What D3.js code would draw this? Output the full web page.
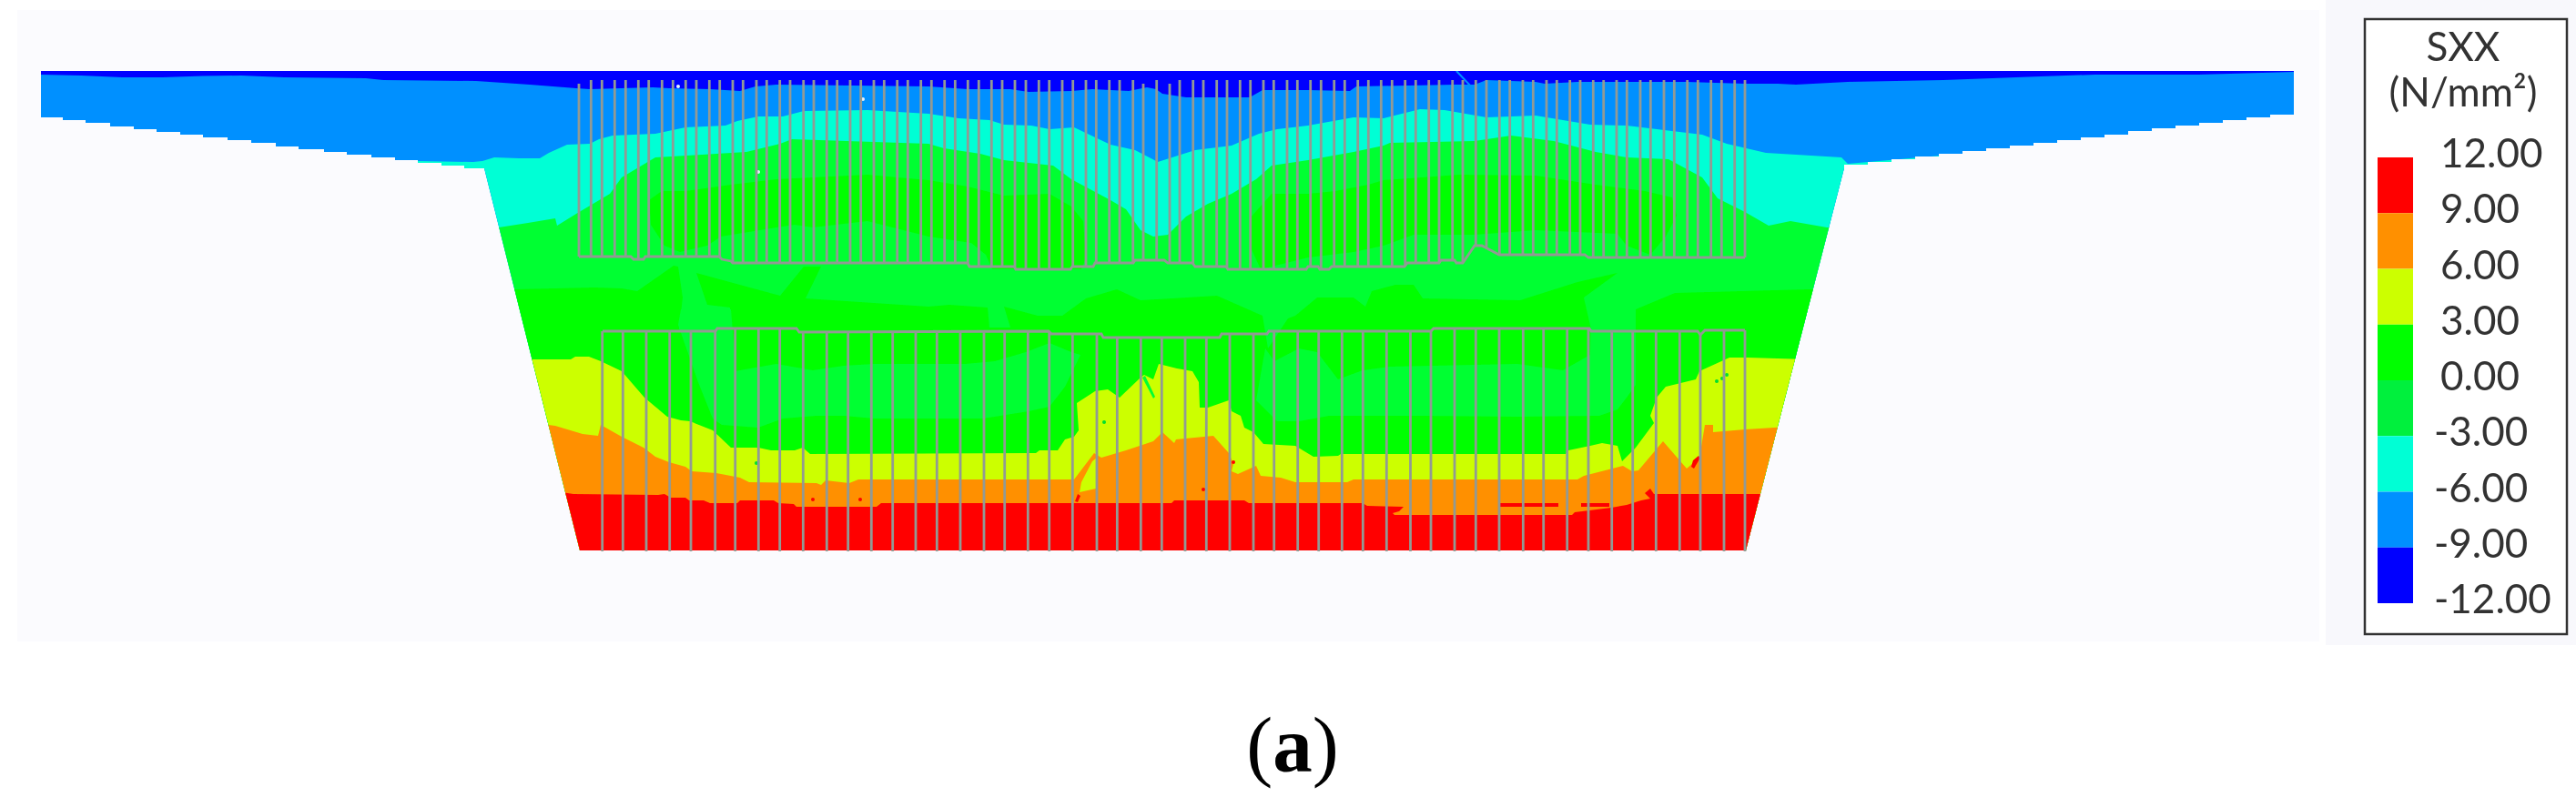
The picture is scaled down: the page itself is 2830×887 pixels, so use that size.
<!DOCTYPE html>
<html><head><meta charset="utf-8">
<script src="https://cdn.jsdelivr.net/npm/d3@7"></script>
<style>html,body{margin:0;padding:0;background:#fff}svg{display:block}</style>
</head><body><svg id="c" width="2830" height="887"></svg>
<script>
// ---- section outline (section coordinates) ----
const flangeRightSteps=[[2520,126],[2494,129],[2468,132],[2442,135],[2416,138],[2390,141],[2364,144],[2338,148],[2312,151],[2286,154],[2260,157],[2234,160],[2208,163],[2182,166],[2156,169],[2130,172],[2104,175],[2078,178],[2052,181],[2026,185]];
const flangeLeftSteps=[[529,185],[510,182],[485,179],[459,176],[434,173],[408,170],[381,167],[356,164],[328,161],[303,157],[276,154],[250,151],[223,148],[198,145],[172,142],[147,139],[121,135],[94,132],[69,129],[45,126]];
const sectionTop=[[45,78],[2520,78]];
const sectionWeb=[[1918,605],[637,605],[532,185]];
// ---- stress bands ----
const legendLevels=[12,9,6,3,0,-3,-6,-9,-12];
const legendLabels=["12.00","9.00","6.00","3.00","0.00","-3.00","-6.00","-9.00","-12.00"];
const bandColors=["#ff0000","#ff9000","#ccff00","#00ff00","#00f03c","#00ffd5","#0090ff","#0000ff"];
const cDeep="#0000ff",cBlue="#0090ff",cTeal="#00ffd5",cLight="#00ff33",cGreen="#00ff00",cYellow="#ccff00",cOrange="#ff9000",cRed="#ff0000";
// ---- contour boundaries, left to right ----
const edgeBlue=[[45,82],[89,83],[134,85],[179,85],[223,83.5],[265,83],[312,85],[402,86],[421,88],[523,89],[582,93],[633,97],[648,98],[717,96],[735,97],[780,98],[813,100],[830,95],[853,93],[1020,95],[1063,98],[1110,98],[1130,101],[1177,100],[1200,98],[1240,100],[1260,96],[1270,98],[1277,103],[1303,107],[1373,107],[1387,99],[1437,99],[1483,100],[1490,95],[1600,93],[1620,93],[1633,88],[1687,90],[1697,92],[1733,90],[1853,90],[1917,92],[1953,92],[1973,93],[2030,90],[2135,88],[2242,84],[2302,82],[2415,82],[2520,79]];
const edgeTeal=[[459,177],[520,178],[530,177],[543,173],[570,174],[593,174],[603,168],[623,159],[648,158],[658,153],[673,149],[720,147],[753,140],[797,138],[810,133],[833,128],[860,128],[883,122],[953,121],[1020,125],[1053,130],[1087,132],[1103,137],[1133,138],[1153,142],[1180,140],[1220,159],[1247,165],[1272,178],[1313,165],[1353,160],[1383,147],[1403,142],[1437,138],[1487,129],[1520,130],[1560,120],[1587,121],[1633,129],[1687,127],[1747,137],[1787,138],[1870,148],[1897,158],[1940,168],[2023,173],[2030,180],[2178,167]];
const edgeLight=[[520,252],[548,250],[580,245],[610,240],[612,248],[633,235],[670,213],[683,195],[720,173],[787,169],[820,167],[857,158],[870,153],[1020,158],[1037,163],[1077,169],[1103,176],[1157,182],[1177,197],[1220,220],[1237,230],[1253,253],[1267,260],[1283,258],[1303,238],[1327,224],[1353,213],[1380,197],[1397,182],[1437,176],[1487,167],[1520,160],[1527,157],[1620,155],[1660,149],[1707,155],[1753,167],[1787,173],[1833,175],[1870,195],[1887,218],[1917,233],[1943,248],[1967,243],[2007,250],[2040,250]];
const edgeGreenMid=[[540,318],[565,318],[653,316],[683,317],[700,320],[740,292],[745,293],[750,327],[746,362],[803,362],[802,338],[777,335],[765,300],[857,325],[883,293],[902,293],[885,328],[1020,337],[1043,335],[1085,338],[1087,360],[1110,360],[1103,337],[1140,347],[1167,347],[1193,328],[1227,318],[1253,330],[1337,325],[1387,347],[1393,383],[1415,350],[1423,347],[1447,327],[1487,327],[1500,337],[1507,320],[1533,313],[1553,313],[1563,328],[1670,330],[1733,310],[1777,300],[1740,327],[1748,362],[1793,362],[1797,340],[1840,322],[1987,318],[2040,318]];
const edgeYellow=[[570,395],[627,395],[632,392],[647,392],[660,397],[683,408],[708,437],[733,458],[748,462],[758,463],[783,473],[803,492],[833,492],[847,495],[873,495],[882,492],[890,499],[1138,498],[1142,495],[1162,495],[1170,483],[1180,480],[1185,473],[1183,443],[1203,430],[1217,428],[1230,437],[1253,415],[1257,412],[1267,417],[1273,400],[1293,405],[1310,408],[1317,420],[1318,448],[1327,448],[1350,440],[1353,452],[1363,457],[1367,470],[1377,475],[1388,488],[1423,490],[1443,502],[1470,501],[1473,499],[1720,499],[1723,495],[1747,490],[1760,487],[1777,490],[1782,507],[1797,492],[1817,465],[1813,457],[1820,437],[1830,425],[1863,417],[1867,408],[1900,393],[1920,393],[1985,395]];
const edgeOrange=[[595,466],[610,468],[640,477],[657,479],[660,467],[683,480],[707,492],[720,502],[735,508],[753,513],[760,518],[787,520],[813,525],[823,530],[897,531],[902,533],[907,528],[933,531],[943,527],[1180,527],[1202,498],[1210,503],[1237,495],[1267,485],[1277,475],[1290,487],[1292,483],[1333,479],[1350,498],[1355,510],[1353,518],[1360,521],[1380,512],[1385,523],[1407,525],[1423,530],[1480,530],[1487,527],[1733,527],[1740,523],[1783,512],[1793,518],[1800,517],[1827,485],[1853,515],[1867,503],[1873,467],[1882,467],[1882,475],[1917,472],[1965,469]];
const edgeRed=[[610,540],[630,543],[723,544],[730,543],[737,547],[753,547],[757,550],[773,550],[780,553],[810,553],[813,550],[850,550],[855,553],[872,554],[875,557],[963,557],[968,553],[1287,553],[1290,550],[1367,550],[1372,553],[1497,553],[1502,556],[1542,557],[1537,562],[1530,564],[1532,566],[1727,566],[1730,563],[1770,558],[1787,555],[1803,550],[1813,548],[1807,542],[1813,537],[1817,543],[1945,543]];
// ---- closed patches ----
const greenBlobLeft=[[715,247],[713,220],[727,210],[753,210],[803,203],[853,197],[953,192],[1020,198],[1063,205],[1103,215],[1153,213],[1177,227],[1190,243],[1193,283],[1188,296],[1090,296],[1083,280],[1067,267],[1020,260],[953,243],[893,250],[873,247],[853,250],[792,260],[777,270],[747,277],[730,270]];
const greenBlobRight=[[1373,270],[1373,240],[1397,213],[1437,213],[1467,210],[1503,203],[1520,198],[1603,192],[1687,193],[1753,203],[1807,210],[1837,217],[1842,237],[1830,260],[1813,280],[1787,270],[1777,257],[1687,253],[1620,258],[1553,258],[1520,270],[1487,277],[1437,283],[1385,296]];
const lightBandLeft=[[745,357],[748,340],[803,340],[807,390],[807,408],[853,400],[893,407],[927,402],[960,400],[1060,400],[1093,397],[1127,387],[1153,377],[1177,387],[1187,390],[1170,425],[1153,447],[1130,452],[1080,460],[960,460],[927,457],[897,457],[860,460],[833,470],[793,467],[783,460],[767,420]];
const lightBandRight=[[1400,397],[1427,383],[1447,387],[1470,417],[1497,407],[1527,403],[1667,400],[1717,407],[1747,390],[1748,340],[1797,340],[1797,423],[1787,437],[1777,450],[1757,457],[1667,458],[1560,457],[1460,457],[1427,463],[1403,463],[1380,440],[1390,383]];
const yellowIsland=[[1186,541],[1188,530],[1200,507],[1205,503],[1204,537]];
const greenSliver=[[1255,415],[1258,413],[1269,436],[1267,438]];
const redStreak=[[1858,513],[1860,506],[1866,501],[1868,503],[1861,515]];
const redIslands=[[[1648,553],[1712,553],[1712,557],[1648,557]],[[1737,553],[1768,553],[1768,557],[1737,557]],[[1181,551],[1184,543],[1187,545],[1184,552]]];
// ---- specks ----
const redSpecks=[[893,549],[945,549],[1322,538],[1355,508]];
const greenSpecks=[[831,509],[1213,464],[1886,419],[1892,416],[1897,412]];
const whiteSpecks=[[745,95],[948,109],[833,189]];
const crackLine=[[1600,78],[1618,97]];
// ---- tendons ----
const upperTeethX=[636,649.3,661.3,675.3,687.3,701.3,712.7,727.3,739.3,753.3,765,779.3,790.7,805,816.3,831,842.3,856.7,868,882.7,894,908.3,919.7,934,945.7,960,971.3,985.7,997.3,1011.7,1023.3,1037.7,1049.3,1063.3,1075.3,1089.3,1101,1115,1127,1141.3,1152.7,1167,1178.7,1193,1204.3,1218.7,1230,1244.7,1256,1270.7,1285,1296,1310.7,1322,1336.7,1348,1362.3,1373.7,1388,1399.3,1414,1425.3,1439.7,1451.3,1465.7,1477.3,1491.7,1503.3,1517.3,1529.3,1543.7,1555.3,1569.7,1581,1595.7,1607,1621.3,1633,1647.3,1658.7,1673,1684.3,1699,1710.3,1724.7,1736,1750.3,1761.7,1776,1787.3,1802,1813.3,1828,1839.3,1853.7,1865.3,1879.7,1891.3,1905.7,1917];
const shortTeethX=[636,1256,1285];
const upperChord=[[636,282],[693,282],[696,285],[707,285],[709,282],[790,282],[793,285],[803,287],[805,289],[1063,289],[1065,293],[1114,293],[1116,296],[1176,296],[1178,293],[1201,293],[1203,289],[1245,289],[1247,286],[1279,286],[1283,289],[1310,289],[1313,293],[1347,293],[1349,296],[1435,296],[1437,293],[1448,293],[1450,296],[1460,296],[1463,293],[1543,293],[1546,289],[1581,289],[1583,286],[1598,286],[1600,289],[1607,289],[1620,270],[1628,270],[1647,280],[1741,280],[1745,283],[1917,283]];
const lowerTeethX=[661.7,684.3,710,735.7,759,785.7,807.7,833.3,856.7,882.3,908.3,931.7,957.3,980.7,1006,1029.3,1055,1081,1103.7,1129.3,1152.7,1178.3,1205,1227.3,1253.3,1276.3,1302,1325.3,1351,1377,1399.7,1425.7,1448.7,1474.3,1497.3,1523.3,1549.5,1572,1598,1621.3,1647,1673.3,1695.7,1721.7,1745,1770.7,1793.7,1819.3,1845.3,1868,1894,1917];
const lowerChord=[[662,364],[786,364],[788,361],[875,361],[878,365],[1152,364],[1155,367],[1210,367],[1212,371],[1340,371],[1342,367],[1392,367],[1394,364],[1572,364],[1575,361],[1746,361],[1748,364],[1865,364],[1868,368],[1873,363],[1917,363]];
const upperTop=88, shortTop=92, lowerBottom=606;
// ---- text ----
const legendTitle=["SXX","(N/mm²)"];
const caption=["(","a",")"];

const svg=d3.select("#c");
const x=d3.scaleLinear().domain([45,2520]).range([45,2520]);
const y=d3.scaleLinear().domain([78,605]).range([78,605]);
const line=d3.line().x(d=>x(d[0])).y(d=>y(d[1]));
const closed=d3.line().x(d=>x(d[0])).y(d=>y(d[1])).curve(d3.curveLinearClosed);
const below=e=>closed([[e[0][0],700],...e,[e[e.length-1][0],700]]);
// staircase: each step keeps the height of the outer end of the flange until the next break
const stair=a=>a.flatMap((p,i)=>i?[[p[0],a[i-1][1]],p]:[p]);
const sectionOutline=[...sectionTop,...stair(flangeRightSteps),...sectionWeb,...stair(flangeLeftSteps)];

svg.append("rect").attr("width",2830).attr("height",887).attr("fill","#ffffff");
svg.append("rect").attr("x",19).attr("y",11).attr("width",2529).attr("height",694).attr("fill","#fbfbfe");
svg.append("rect").attr("x",2555).attr("y",0).attr("width",275).attr("height",709).attr("fill","#f8f8fc");

const defs=svg.append("defs");
defs.append("clipPath").attr("id","sec").append("path").attr("d",closed(sectionOutline));
const blur=defs.append("filter").attr("id","soft").attr("filterUnits","userSpaceOnUse").attr("x",0).attr("y",0).attr("width",2830).attr("height",887);
blur.append("feGaussianBlur").attr("stdDeviation",0.7);
const blur2=defs.append("filter").attr("id","soft2").attr("filterUnits","userSpaceOnUse").attr("x",2500).attr("y",0).attr("width",330).attr("height",720);
blur2.append("feGaussianBlur").attr("stdDeviation",0.6);

const chart=svg.append("g").attr("filter","url(#soft)");
const fill=chart.append("g").attr("clip-path","url(#sec)");
fill.append("path").attr("d",closed(sectionOutline)).attr("fill",cDeep);
[[edgeBlue,cBlue],[edgeTeal,cTeal],[edgeLight,cLight]].forEach(([e,c])=>fill.append("path").attr("d",below(e)).attr("fill",c));
[greenBlobLeft,greenBlobRight].forEach(p=>fill.append("path").attr("d",closed(p)).attr("fill",cGreen));
fill.append("path").attr("d",below(edgeGreenMid)).attr("fill",cGreen);
[lightBandLeft,lightBandRight].forEach(p=>fill.append("path").attr("d",closed(p)).attr("fill",cLight));
[[edgeYellow,cYellow],[edgeOrange,cOrange]].forEach(([e,c])=>fill.append("path").attr("d",below(e)).attr("fill",c));
fill.append("path").attr("d",closed(yellowIsland)).attr("fill",cYellow);
fill.append("path").attr("d",closed(greenSliver)).attr("fill",cLight);
fill.append("path").attr("d",below(edgeRed)).attr("fill",cRed);
fill.append("path").attr("d",closed(redStreak)).attr("fill",cRed);
redIslands.forEach(p=>fill.append("path").attr("d",closed(p)).attr("fill",cRed));
const dots=(a,c)=>fill.append("g").selectAll("circle").data(a).join("circle").attr("cx",d=>x(d[0])).attr("cy",d=>y(d[1])).attr("r",2).attr("fill",c);
dots(redSpecks,cRed);dots(greenSpecks,"#00e030");dots(whiteSpecks,"#e8f4ff");
fill.append("path").attr("d",line(crackLine)).attr("fill","none").attr("stroke",cBlue).attr("stroke-width",2);

// chord height at a given x
const chordAt=(ch,v)=>{const i=Math.max(1,Math.min(ch.length-1,d3.bisector(d=>d[0]).left(ch,v)));
  const a=ch[i-1],b=ch[i];return a[1]+(b[1]-a[1])*(v-a[0])/(b[0]-a[0]);};
const duct=chart.append("g").attr("stroke","#929a94").attr("stroke-width",2.8).attr("fill","none");
duct.selectAll(".u").data(upperTeethX).join("line").attr("class","u")
  .attr("x1",d=>x(d)).attr("x2",d=>x(d))
  .attr("y1",d=>y(shortTeethX.includes(d)?shortTop:upperTop)).attr("y2",d=>y(chordAt(upperChord,d)));
duct.append("path").attr("d",line(upperChord));
duct.selectAll(".l").data(lowerTeethX).join("line").attr("class","l")
  .attr("x1",d=>x(d)).attr("x2",d=>x(d))
  .attr("y1",d=>y(chordAt(lowerChord,d))).attr("y2",y(lowerBottom));
duct.append("path").attr("d",line(lowerChord));

// legend
const ly=d3.scaleLinear().domain([12,-12]).range([173,663]);
const leg=svg.append("g").attr("filter","url(#soft2)");
leg.append("rect").attr("x",2598).attr("y",21).attr("width",222).attr("height",676).attr("fill","#ffffff").attr("stroke","#333333").attr("stroke-width",2.5);
leg.selectAll(".sw").data(bandColors).join("rect").attr("class","sw")
  .attr("x",2612).attr("width",39)
  .attr("y",(d,i)=>ly(legendLevels[i])).attr("height",(d,i)=>ly(legendLevels[i+1])-ly(legendLevels[i])).attr("fill",d=>d);
const font="Lato, 'Open Sans', sans-serif";
leg.selectAll(".t").data(legendTitle).join("text").attr("class","t")
  .attr("x",2706).attr("y",(d,i)=>67+i*49.5).attr("text-anchor","middle")
  .attr("font-family",font).attr("font-size",44).attr("fill","#333333").text(d=>d);
leg.selectAll(".v").data(legendLabels).join("text").attr("class","v")
  .attr("x",d=>d.startsWith("-")?2674:2681).attr("y",(d,i)=>ly(legendLevels[i])+11)
  .attr("font-family",font).attr("font-size",44).attr("fill","#333333").text(d=>d);

// caption
const cap=svg.append("text").attr("x",1420).attr("y",848).attr("text-anchor","middle")
  .attr("font-family","'Liberation Serif', serif").attr("font-size",87).attr("fill","#000");
caption.forEach((t,i)=>cap.append("tspan").attr("font-weight",i===1?"bold":"normal").text(t));
</script></body></html>
